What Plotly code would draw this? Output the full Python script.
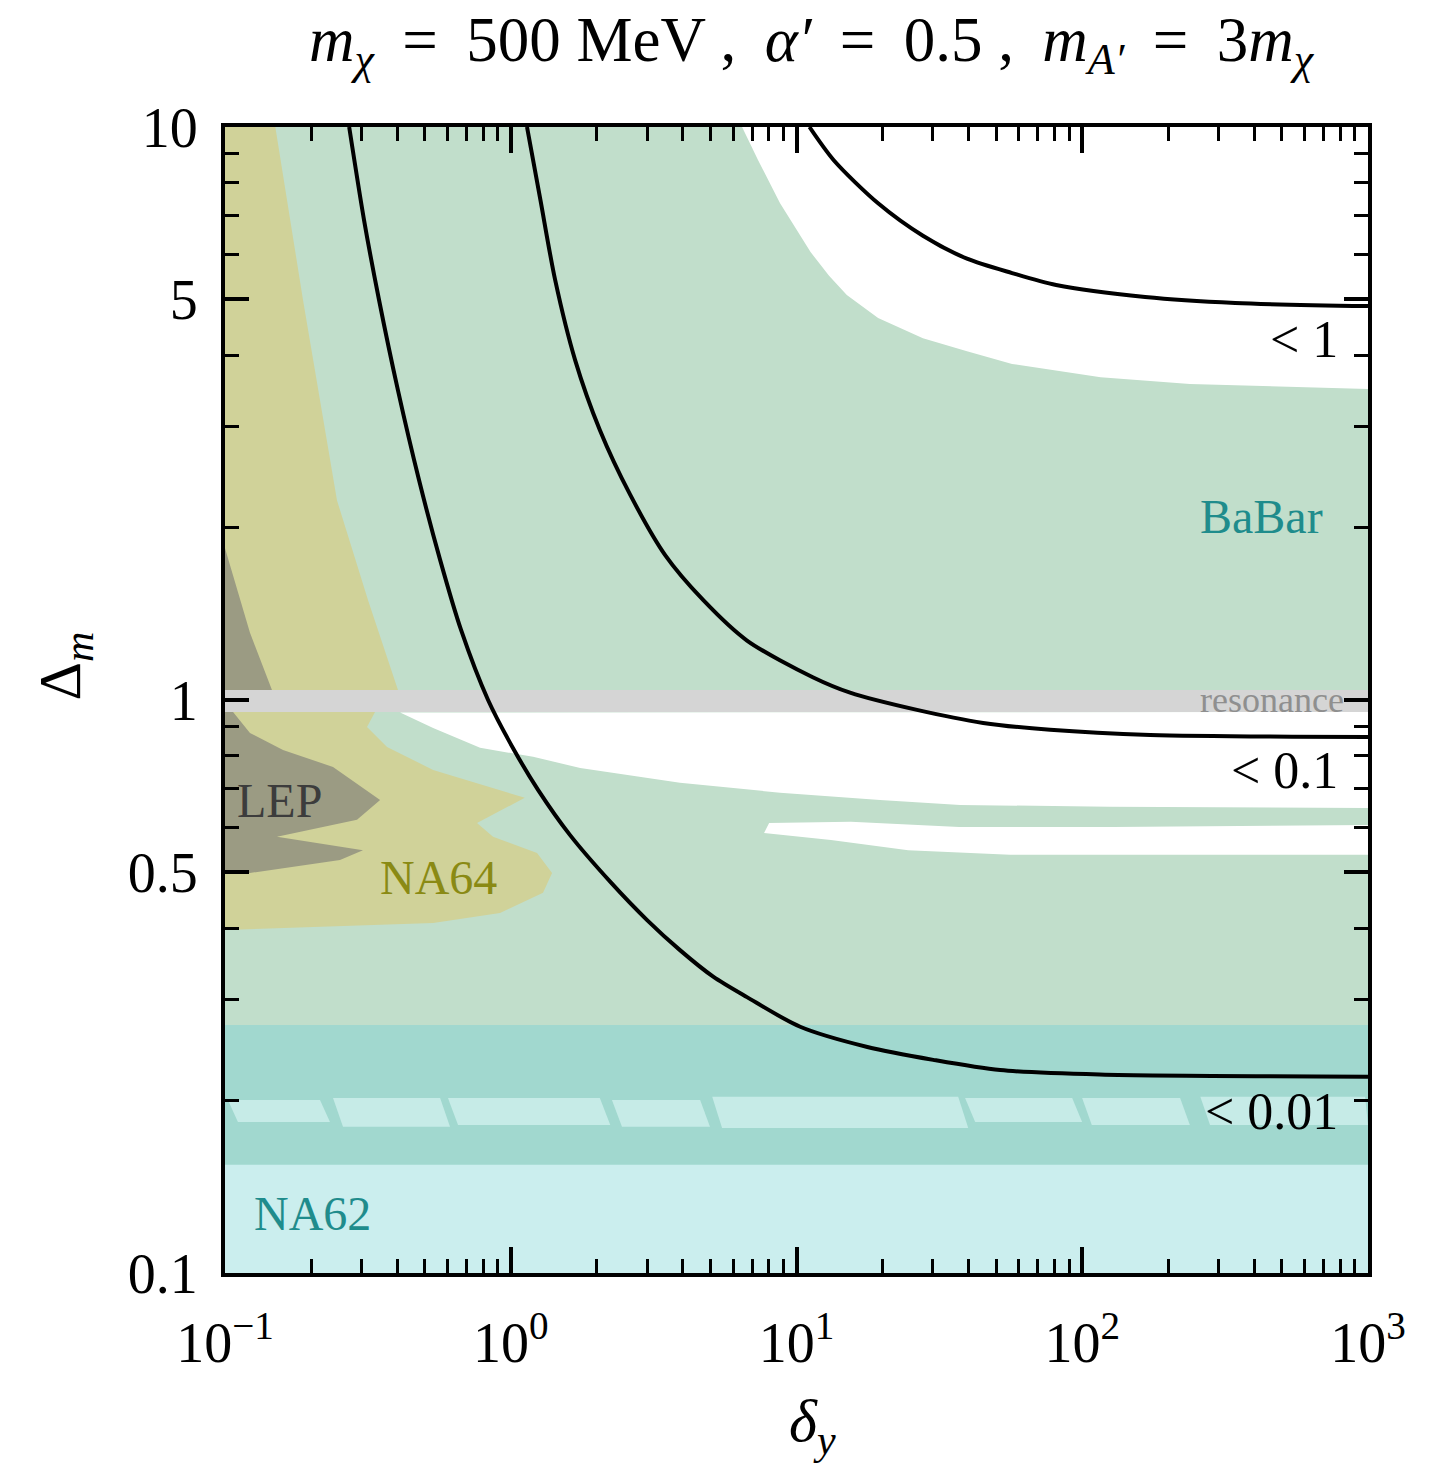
import math
import plotly.graph_objects as go

# ---------------- data ----------------
# contour "< 0.01"
c001_x = [0.272, 0.3066, 0.346, 0.403, 0.4775, 0.566, 0.670, 0.833, 1.027, 1.246, 1.613, 2.244, 3.00,
          3.91, 5.11, 6.71, 10.3, 17.7, 30.1, 51.6, 115, 1000]
c001_y = [10.0, 6.88, 4.99, 3.47, 2.42, 1.756, 1.325, 1.00, 0.818, 0.697, 0.581, 0.480, 0.413,
          0.366, 0.329, 0.303, 0.269, 0.248, 0.2355, 0.226, 0.222, 0.220]
# contour "< 0.1"
c01_x = [1.14, 1.27, 1.43, 1.68, 2.05, 2.62, 3.47, 4.71, 6.71, 11.4, 15.4, 26.4, 45.0, 77.2, 173, 1000]
c01_y = [10.0, 7.46, 5.41, 3.92, 2.96, 2.28, 1.79, 1.495, 1.27, 1.096, 1.03, 0.961, 0.912, 0.887, 0.869, 0.862]
# contour "< 1"
c1_x = [11.1, 13.5, 19.3, 27.7, 39.5, 56.8, 81.0, 166, 343, 1000]
c1_y = [10.0, 8.75, 7.36, 6.46, 5.89, 5.56, 5.30, 5.05, 4.93, 4.87]

# BaBar excluded region (upper edge, left to right along the white corner)
babar_edge_x = [6.45, 7.34, 8.76, 11.2, 13.0, 15.0, 19.3, 27.7, 39.5, 56.8, 116, 238, 489, 1000]
babar_edge_y = [10.0, 8.75, 7.36, 6.05, 5.50, 5.09, 4.64, 4.28, 4.06, 3.86, 3.66, 3.56, 3.52, 3.49]
babar_low = 0.271

# NA62 region and overlap with BaBar
na62_top = 0.271
overlap_low = 0.1545
streak_x0 = [0.1024, 0.2388, 0.603, 2.26, 5.07, 38.9, 99.9, 259]
streak_x1 = [0.215, 0.566, 2.05, 4.60, 36.8, 92.2, 220, 977]
streak_x0b = [0.111, 0.2588, 0.654, 2.45, 5.49, 42.2, 108, 280]
streak_x1b = [0.233, 0.613, 2.23, 4.98, 39.9, 99.9, 238, 1000]
streak_top = [0.2004, 0.2021, 0.2021, 0.2004, 0.203, 0.2021, 0.2021, 0.203]
streak_bot = [0.1835, 0.1799, 0.1813, 0.1799, 0.179, 0.1835, 0.1813, 0.1813]

# white holes in BaBar below the resonance
hole1_x = [0.410, 0.535, 0.781, 1.197, 1.75, 3.91, 8.76, 19.6, 37.4, 125, 1000, 1000]
hole1_y = [0.951, 0.894, 0.825, 0.796, 0.761, 0.717, 0.689, 0.669, 0.656, 0.651, 0.648, 0.953]
hole2_x = [7.70, 8.02, 15.5, 37.1, 128, 1000, 1000, 55.9, 24.6, 13.2]
hole2_y = [0.586, 0.610, 0.613, 0.600, 0.600, 0.605, 0.537, 0.537, 0.547, 0.570]

# NA64
na64_x = [0.1, 0.150, 0.1875, 0.215, 0.2466, 0.3165, 0.403, 0.335, 0.314, 0.369, 0.535, 1.12,
          0.762, 0.867, 1.236, 1.395, 1.297, 0.917, 0.535, 0.1]
na64_y = [10.0, 10.0, 4.99, 3.34, 2.23, 1.495, 1.041, 0.953, 0.897, 0.828, 0.755, 0.675,
          0.610, 0.577, 0.541, 0.499, 0.461, 0.425, 0.408, 0.397]
# LEP
lep_x = [0.1, 0.1223, 0.146, 0.1067, 0.1223, 0.1596, 0.2388, 0.349, 0.2897, 0.152, 0.304,
         0.2526, 0.1223, 0.1]
lep_y = [1.84, 1.31, 1.041, 0.953, 0.876, 0.818, 0.764, 0.669, 0.618, 0.577, 0.547,
         0.526, 0.499, 0.499]

# resonance band
res_low, res_high = 0.953, 1.041

x_range = [0.1, 1000]
y_range = [0.1, 10]

x_ticks = [0.1, 1, 10, 100, 1000]
x_ticktext = ["10<sup>−1</sup>", "10<sup>0</sup>", "10<sup>1</sup>", "10<sup>2</sup>", "10<sup>3</sup>"]
x_minor = [m * d for d in [0.1, 1, 10, 100] for m in range(2, 10)]
y_ticks = [0.1, 0.5, 1, 5, 10]
y_ticktext = ["0.1", "0.5", "1", "5", "10"]
y_minor = [0.2, 0.3, 0.4, 0.6, 0.7, 0.8, 0.9, 2, 3, 4, 6, 7, 8, 9]

# ---------------- styles ----------------
C_NA62 = "#cbeeee"
C_BABAR = "#c1decb"
C_OVER = "#a1d8cf"
C_STREAK = "#c6ebe7"
C_NA64 = "#d0d299"
C_LEP = "#9b9b83"
C_RES = "#d5d5d5"
FONT = "Liberation Serif"

fig = go.Figure()


def poly(xs, ys, color):
    fig.add_trace(go.Scatter(x=xs, y=ys, fill="toself", fillcolor=color, mode="lines",
                             line=dict(width=0, color=color), hoverinfo="skip", showlegend=False))


def rect(x0, x1, y0, y1, color):
    poly([x0, x1, x1, x0, x0], [y0, y0, y1, y1, y0], color)


# NA62
rect(x_range[0], x_range[1], y_range[0], na62_top, C_NA62)
# BaBar
bx = [x_range[0], x_range[1]] + babar_edge_x[::-1] + [x_range[0]]
by = [babar_low, babar_low] + babar_edge_y[::-1] + [y_range[1]]
poly(bx, by, C_BABAR)
# overlap
rect(x_range[0], x_range[1], overlap_low, na62_top, C_OVER)
# streaks
for a, b, ab, bb, t, d in zip(streak_x0, streak_x1, streak_x0b, streak_x1b, streak_top, streak_bot):
    poly([a, b, bb, ab], [t, t, d, d], C_STREAK)
# white holes
poly(hole1_x, hole1_y, "#ffffff")
poly(hole2_x, hole2_y, "#ffffff")
# NA64 and LEP
poly(na64_x, na64_y, C_NA64)
poly(lep_x, lep_y, C_LEP)
# resonance
rect(x_range[0], x_range[1], res_low, res_high, C_RES)

# contours
for xs, ys in [(c001_x, c001_y), (c01_x, c01_y), (c1_x, c1_y)]:
    fig.add_trace(go.Scatter(x=xs, y=ys, mode="lines",
                             line=dict(color="black", width=4, shape="spline", smoothing=0.8),
                             hoverinfo="skip", showlegend=False))


def label(x, y, text, color, size, anchor):
    fig.add_annotation(x=x, y=y, xref="x", yref="y", text=text, showarrow=False,
                       font=dict(family=FONT, size=size, color=color), xanchor=anchor, yanchor="middle")


L = math.log10
label(L(800), L(4.25), "&lt; 1", "black", 52, "right")
label(L(800), L(0.752), "&lt; 0.1", "black", 52, "right")
label(L(800), L(0.191), "&lt; 0.01", "black", 52, "right")
label(L(708), L(2.09), "BaBar", "#1f8c8c", 48, "right")
label(L(835), L(1.0), "resonance", "#8f8f8f", 36, "right")
label(L(0.1084), L(0.667), "LEP", "#3c3c3c", 48, "left")
label(L(0.343), L(0.491), "NA64", "#8a8a14", 48, "left")
label(L(0.1243), L(0.1268), "NA62", "#1f8c8c", 48, "left")

ts = "\u2009"
title = (f"<i>m</i><sub><i>χ</i></sub> {ts}={ts} 500 MeV , {ts}<i>α′</i> {ts}={ts} 0.5 , {ts}"
         f"<i>m</i><sub><i>A′</i></sub> {ts}={ts} 3<i>m</i><sub><i>χ</i></sub>")
fig.add_annotation(xref="paper", yref="paper", x=0.5136, y=1.072, text=title,
                   showarrow=False, font=dict(family=FONT, size=63, color="black"),
                   xanchor="center", yanchor="middle")
fig.add_annotation(xref="paper", yref="paper", x=-0.14, y=0.53, text="Δ<sub><i>m</i></sub>", textangle=-90,
                   showarrow=False, font=dict(family=FONT, size=60, color="black"),
                   xanchor="center", yanchor="middle")
fig.add_annotation(xref="paper", yref="paper", x=0.514, y=-0.133, text="<i>δ</i><sub><i>y</i></sub>",
                   showarrow=False, font=dict(family=FONT, size=60, color="black"),
                   xanchor="center", yanchor="middle")

axis_common = dict(type="log", showgrid=False, zeroline=False, showline=True, linecolor="black", linewidth=4,
                   mirror="ticks", ticks="inside", tickcolor="black", tickwidth=3.5,
                   tickfont=dict(family=FONT, size=56, color="black"))
fig.update_xaxes(range=[L(x_range[0]), L(x_range[1])], tickvals=x_ticks, ticktext=x_ticktext, ticklen=26,
                 ticklabelstandoff=18,
                 minor=dict(tickvals=x_minor, ticks="inside", ticklen=14, tickwidth=3, tickcolor="black"),
                 **axis_common)
fig.update_yaxes(range=[L(y_range[0]), L(y_range[1])], tickvals=y_ticks, ticktext=y_ticktext, ticklen=24,
                 ticklabelstandoff=12,
                 minor=dict(tickvals=y_minor, ticks="inside", ticklen=14, tickwidth=3, tickcolor="black"),
                 **axis_common)

fig.update_layout(width=1448, height=1463, margin=dict(l=225, r=80, t=127, b=190),
                  plot_bgcolor="white", paper_bgcolor="white", showlegend=False)

fig.write_html("out.html")
